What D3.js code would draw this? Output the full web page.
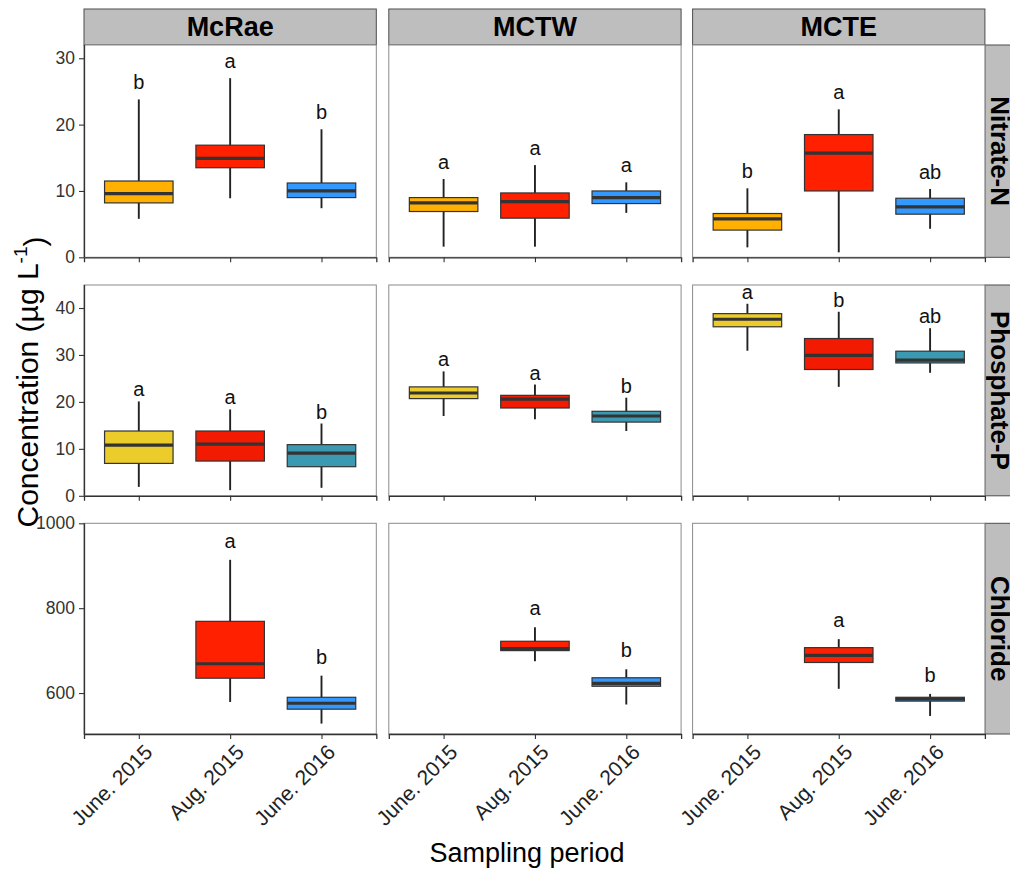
<!DOCTYPE html>
<html>
<head>
<meta charset="utf-8">
<script src="https://cdn.jsdelivr.net/npm/d3@7"></script>
<style>
  body { margin: 0; background: #fff; }
  text { font-family: "Liberation Sans", Arial, sans-serif; }
</style>
</head>
<body>
<div id="graph"></div>
<script>
var sites = ["McRae", "MCTW", "MCTE"];
var periods = ["June. 2015", "Aug. 2015", "June. 2016"];
var analytes = ["Nitrate-N", "Phosphate-P", "Chloride"];

// box stats per site, per period: [low whisker, q1, median, q3, high whisker]
var nitrate = [
  [[5.8, 8.2, 9.6, 11.5, 23.8], [8.9, 13.5, 14.9, 16.9, 27.0], [7.4, 9.0, 10.0, 11.2, 19.3]],
  [[1.6, 6.9, 8.2, 9.0, 11.8], [1.6, 5.9, 8.4, 9.7, 13.9], [6.7, 8.1, 9.0, 10.0, 11.3]],
  [[1.5, 4.1, 5.8, 6.6, 10.4], [0.75, 10.0, 15.7, 18.5, 22.3], [4.3, 6.5, 7.6, 8.9, 10.3]]
];
var phosphate = [
  [[1.9, 6.9, 10.8, 13.8, 20.1], [1.2, 7.4, 11.0, 13.8, 18.4], [1.7, 6.2, 9.1, 10.9, 15.4]],
  [[17.0, 20.7, 21.9, 23.2, 26.5], [16.3, 18.7, 20.6, 21.4, 23.7], [13.8, 15.7, 17.0, 18.0, 20.9]],
  [[30.9, 36.0, 37.6, 38.8, 40.9], [23.2, 26.9, 29.9, 33.5, 39.2], [26.2, 28.3, 28.9, 30.8, 35.7]]
];
var chloride = [
  [null, [579, 635, 669, 769, 914], [528, 562, 576, 590, 641]],
  [null, [675, 700, 705, 722, 755], [573, 616, 623, 636, 656]],
  [null, [610, 672, 689, 707, 727], [546, 581, 586, 590, 598]]
];

var nitrateLetters = [["b", "a", "b"], ["a", "a", "a"], ["b", "a", "ab"]];
var phosphateLetters = [["a", "a", "b"], ["a", "a", "b"], ["a", "b", "ab"]];
var chlorideLetters = [["", "a", "b"], ["", "a", "b"], ["", "a", "b"]];

var nitrateTicks = [0, 10, 20, 30];
var phosphateTicks = [0, 10, 20, 30, 40];
var chlorideTicks = [600, 800, 1000];

var nitrateColors = ["#FFB000", "#FF2000", "#3399FF"];
var phosphateColors = ["#EBCC2A", "#F21A00", "#3B9AB2"];
var chlorideColors = ["#FFB000", "#FF2000", "#3399FF"];

var rows = [
  {stats: nitrate, letters: nitrateLetters, ticks: nitrateTicks, colors: nitrateColors, domain: [0, 32], pad: 2.6},
  {stats: phosphate, letters: phosphateLetters, ticks: phosphateTicks, colors: phosphateColors, domain: [0, 44.9], pad: 2.55},
  {stats: chloride, letters: chlorideLetters, ticks: chlorideTicks, colors: chlorideColors, domain: [503.5, 1000], pad: 45}
];

// layout
var svgWidth = 1010, svgHeight = 872;
var colX = [84, 388.8, 692.6];
var panelW = 292.3;
var rowY = [45, 285, 523.3];
var rowH = [212.3, 210.8, 210.7];
var stripH = 36;

var svg = d3.select("#graph").append("svg")
  .attr("width", svgWidth)
  .attr("height", svgHeight);

var x = d3.scalePoint().domain(periods).range([0, panelW]).padding(0.6);
var boxW = x.step() * 0.75;

// top strips
sites.forEach(function(site, c) {
  svg.append("rect")
    .attr("x", colX[c]).attr("y", rowY[0] - stripH)
    .attr("width", panelW).attr("height", stripH)
    .attr("fill", "#BEBEBE").attr("stroke", "#4d4d4d").attr("stroke-width", 1);
  svg.append("text")
    .attr("x", colX[c] + panelW / 2).attr("y", rowY[0] - stripH / 2)
    .attr("dy", "0.35em")
    .attr("text-anchor", "middle")
    .style("font-size", "27px").style("font-weight", "bold")
    .text(site);
});

rows.forEach(function(row, r) {
  var y = d3.scaleLinear().domain(row.domain).range([rowY[r] + rowH[r], rowY[r]]);

  // right strip (cut by the page edge, as in the original)
  svg.append("rect")
    .attr("x", colX[2] + panelW).attr("y", rowY[r])
    .attr("width", stripH).attr("height", rowH[r])
    .attr("fill", "#BEBEBE").attr("stroke", "#4d4d4d").attr("stroke-width", 1);
  svg.append("text")
    .attr("transform", `translate(${colX[2] + panelW + 15}, ${rowY[r] + rowH[r] / 2}) rotate(90)`)
    .attr("dy", "0.35em")
    .attr("text-anchor", "middle")
    .style("font-size", "26px").style("font-weight", "bold")
    .text(analytes[r]);

  sites.forEach(function(site, c) {
    var g = svg.append("g").attr("transform", `translate(${colX[c]}, 0)`);

    g.append("rect")
      .attr("x", 0).attr("y", rowY[r])
      .attr("width", panelW).attr("height", rowH[r])
      .attr("fill", "#fff").attr("stroke", "#8a8a8a").attr("stroke-width", 1);

    // boxes
    row.stats[c].forEach(function(s, p) {
      if (!s) return;
      var cx = x(periods[p]);
      g.append("line")
        .attr("x1", cx).attr("x2", cx)
        .attr("y1", y(s[0])).attr("y2", y(s[4]))
        .attr("stroke", "#222").attr("stroke-width", 1.9);
      g.append("rect")
        .attr("x", cx - boxW / 2).attr("y", y(s[3]))
        .attr("width", boxW).attr("height", y(s[1]) - y(s[3]))
        .attr("fill", row.colors[p]).attr("stroke", "#333").attr("stroke-width", 1.2);
      g.append("line")
        .attr("x1", cx - boxW / 2).attr("x2", cx + boxW / 2)
        .attr("y1", y(s[2])).attr("y2", y(s[2]))
        .attr("stroke", "#333").attr("stroke-width", 3.2);
      g.append("text")
        .attr("x", cx).attr("y", y(s[4] + row.pad))
        .attr("dy", "0.35em")
        .attr("text-anchor", "middle")
        .style("font-size", "20px")
        .attr("fill", "#111")
        .text(row.letters[c][p]);
    });

    // bottom axis
    var xAxis = d3.axisBottom(x).tickSize(5).tickPadding(3);
    if (r < 2) xAxis.tickFormat("");
    var xg = g.append("g")
      .attr("transform", `translate(0, ${rowY[r] + rowH[r]})`)
      .call(xAxis);
    xg.select(".domain").attr("stroke", "#333").attr("stroke-width", 1.3);
    xg.selectAll(".tick line").attr("stroke", "#333").attr("stroke-width", 1.1);
    if (r == 2) {
      xg.selectAll(".tick text")
        .attr("x", 0).attr("y", 0)
        .attr("dy", "0.71em")
        .attr("text-anchor", "end")
        .attr("transform", "translate(4, 9) rotate(-45)")
        .attr("fill", "#222")
        .style("font-size", "21px")
        .style("font-family", "'Liberation Sans', Arial, sans-serif");
    }

    // left axis only on first column
    if (c == 0) {
      var yAxis = d3.axisLeft(y).tickValues(row.ticks).tickFormat(d3.format("d"))
        .tickSize(5).tickPadding(4);
      var yg = g.append("g").call(yAxis);
      yg.select(".domain").attr("stroke", "#333").attr("stroke-width", 1.3)
        .attr("d", `M0.5,${rowY[r]}V${rowY[r] + rowH[r]}`);
      yg.selectAll(".tick line").attr("stroke", "#333").attr("stroke-width", 1.1);
      yg.selectAll(".tick text")
        .attr("fill", "#333")
        .style("font-size", "17.5px")
        .style("font-family", "'Liberation Sans', Arial, sans-serif");
    }
  });
});

// axis titles
svg.append("text")
  .attr("x", 527).attr("y", 862)
  .attr("text-anchor", "middle")
  .style("font-size", "27px")
  .text("Sampling period");

var ytitle = svg.append("text")
  .attr("transform", "translate(38, 382) rotate(-90)")
  .attr("text-anchor", "middle")
  .style("font-size", "30px");
ytitle.append("tspan").text("Concentration (µg L");
ytitle.append("tspan").attr("dy", "-0.6em").style("font-size", "19px").text("-1");
ytitle.append("tspan").attr("dy", "0.6em").text(")");
</script>
</body>
</html>
